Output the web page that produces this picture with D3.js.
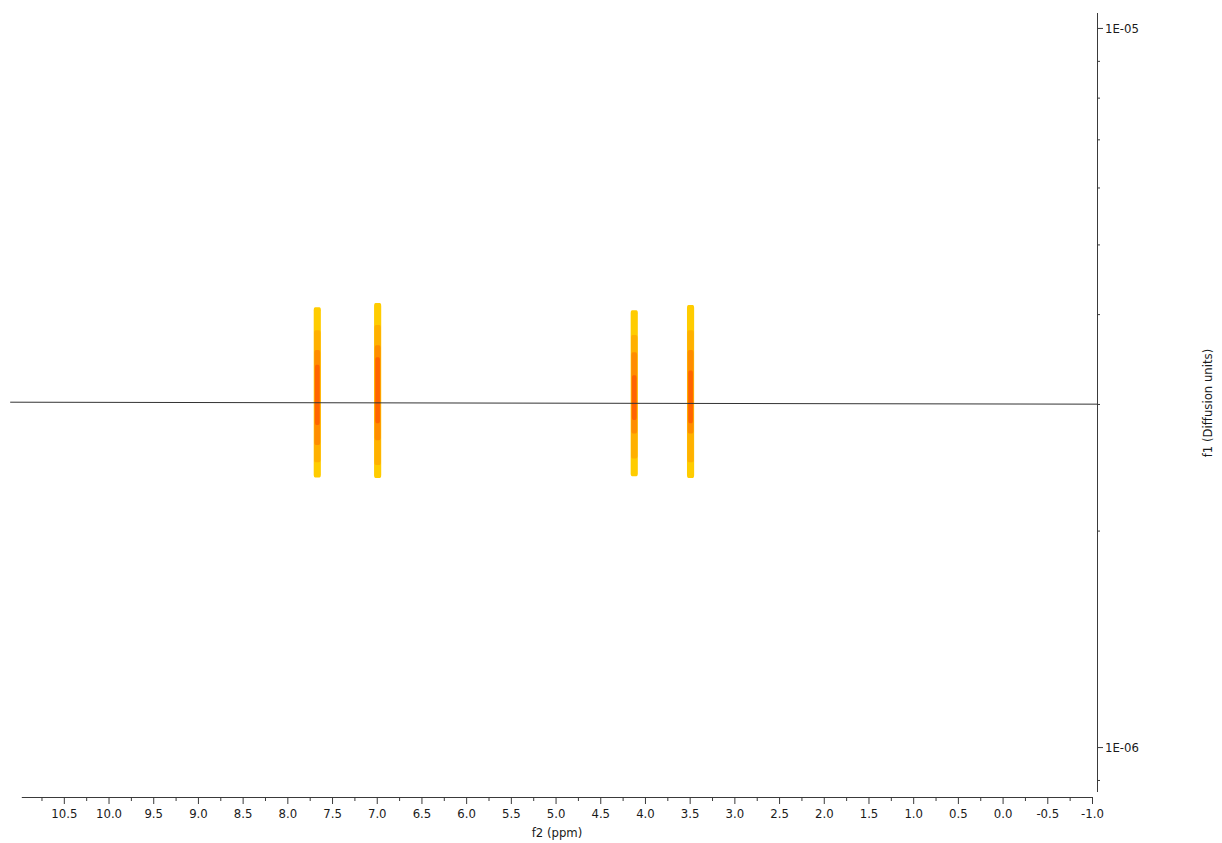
<!DOCTYPE html>
<html><head><meta charset="utf-8">
<script src="https://cdn.jsdelivr.net/npm/d3@7"></script>
<style>body{margin:0;background:#fff}svg{display:block}text{font-family:"DejaVu Sans Condensed","DejaVu Sans",sans-serif;font-stretch:condensed;fill:#1a1a1a}</style>
</head><body><svg id="c" width="1222" height="843"></svg>
<script>
// ---- data ----
const ppmTickLabels = [10.5,10.0,9.5,9.0,8.5,8.0,7.5,7.0,6.5,6.0,5.5,5.0,4.5,4.0,3.5,3.0,2.5,2.0,1.5,1.0,0.5,0.0,-0.5,-1.0];
const ppmMinorTicks = [10.75,10.25,9.75,9.25,8.75,8.25,7.75,7.25,6.75,6.25,5.75,5.25,4.75,4.25,3.75,3.25,2.75,2.25,1.75,1.25,0.75,0.25,-0.25,-0.75];
const diffMajorTicks = [1e-5, 1e-6];
const diffMajorLabels = ["1E-05","1E-06"];
const diffMinorTicks = [9e-6,8e-6,7e-6,6e-6,5e-6,4e-6,3e-6,2e-6,9e-7];
const peakPpm = [7.665, 6.99, 4.12, 3.49];
const levelColors = ["#FFCC00","#FFB000","#FF8C00","#FF6400"];
const levelHalfWidthPpm = [0.040, 0.036, 0.032, 0.026];
// per peak, per level: upper and lower diffusion values of the contour
const peakLevelUpper = [
  [4.09e-6, 3.80e-6, 3.566e-6, 3.40e-6],
  [4.145e-6, 3.862e-6, 3.62e-6, 3.485e-6],
  [4.05e-6, 3.74e-6, 3.54e-6, 3.29e-6],
  [4.117e-6, 3.80e-6, 3.566e-6, 3.34e-6]
];
const peakLevelLower = [
  [2.37e-6, 2.49e-6, 2.63e-6, 2.805e-6],
  [2.366e-6, 2.467e-6, 2.67e-6, 2.82e-6],
  [2.38e-6, 2.52e-6, 2.73e-6, 2.85e-6],
  [2.366e-6, 2.49e-6, 2.73e-6, 2.82e-6]
];
const fitLinePpm = [11.10, -1.06];
const fitLineD = [3.017e-6, 2.998e-6];

// ---- scales ----
const svg = d3.select("#c");
const x = d3.scaleLinear().domain([10.97, -1.0]).range([21.8, 1092]);
const y = d3.scaleLog().domain([8.66e-7, 1.049e-5]).range([792, 13]);
const axisColor = "#3a3a3a";
const FONT = '"DejaVu Sans Condensed","DejaVu Sans",sans-serif';
const FS = 13;

// ---- peaks ----
const g = svg.append("g");
peakPpm.forEach((p, i) => {
  levelColors.forEach((col, l) => {
    const x0 = x(p + levelHalfWidthPpm[l]), x1 = x(p - levelHalfWidthPpm[l]);
    const y0 = y(peakLevelUpper[i][l]), y1 = y(peakLevelLower[i][l]);
    g.append("rect").attr("x", x0).attr("y", y0)
      .attr("width", x1 - x0).attr("height", y1 - y0)
      .attr("rx", 1.5).attr("ry", 3)
      .attr("fill", col);
  });
});

// ---- fit line ----
svg.append("line")
  .attr("x1", x(fitLinePpm[0])).attr("y1", y(fitLineD[0]))
  .attr("x2", x(fitLinePpm[1])).attr("y2", y(fitLineD[1]))
  .attr("stroke", "#333").attr("stroke-width", 1);

// ---- bottom axis ----
const axY = 797;
const bx = svg.append("g").attr("transform", `translate(0,${axY})`);
bx.append("line").attr("x1", x.range()[0]).attr("x2", x.range()[1]).attr("y1", 0.5).attr("y2", 0.5)
  .attr("stroke", axisColor);
const bMinor = d3.axisBottom(x).tickValues(ppmMinorTicks).tickSize(4).tickFormat("");
const bMajor = d3.axisBottom(x).tickValues(ppmTickLabels).tickSize(7).tickPadding(5)
  .tickFormat(d => d.toFixed(1));
const gm = bx.append("g").call(bMinor);
const gM = bx.append("g").call(bMajor);
[gm, gM].forEach(s => { s.select(".domain").remove(); s.selectAll("line").attr("stroke", axisColor); });
gM.selectAll("text").attr("font-size", FS).attr("font-family", FONT).attr("fill", "#1a1a1a");
svg.append("text").attr("x", 557).attr("y", 837).attr("text-anchor", "middle").attr("font-size", FS).text("f2 (ppm)");

// ---- right axis ----
const axX = 1097;
const ry = svg.append("g").attr("transform", `translate(${axX},0)`);
ry.append("line").attr("x1", 0.5).attr("x2", 0.5).attr("y1", y.range()[1]).attr("y2", y.range()[0]).attr("stroke", axisColor);
const rMinor = d3.axisRight(y).tickValues(diffMinorTicks).tickSize(3).tickFormat("");
const rMajor = d3.axisRight(y).tickValues(diffMajorTicks).tickSize(6).tickPadding(2)
  .tickFormat((d, i) => diffMajorLabels[i]);
const rm = ry.append("g").call(rMinor);
const rM = ry.append("g").call(rMajor);
[rm, rM].forEach(s => { s.select(".domain").remove(); s.selectAll("line").attr("stroke", axisColor); });
rM.selectAll("text").attr("font-size", FS).attr("font-family", FONT).attr("fill", "#1a1a1a");
svg.append("text").attr("transform", "translate(1212,403) rotate(-90)").attr("text-anchor", "middle")
  .attr("font-size", FS).text("f1 (Diffusion units)");
</script></body></html>
